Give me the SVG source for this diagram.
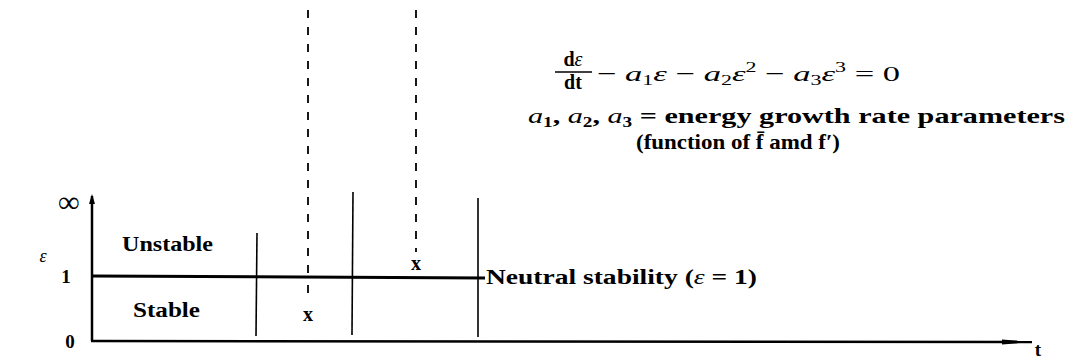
<svg xmlns="http://www.w3.org/2000/svg" width="1070" height="364" viewBox="0 0 1070 364">
<style>
.t{font-family:"Liberation Serif","DejaVu Serif",serif;fill:#000}
.b{font-weight:bold}
.i{font-style:italic}
.ax{stroke:#000;stroke-width:2.5;fill:none}
.sl{stroke:#000;stroke-width:1.6;fill:none}
.dl{stroke:#000;stroke-width:1.8;fill:none;stroke-dasharray:8 9}
.sub{font-size:14px}
</style>
<defs>
<marker id="ah" viewBox="0 0 30 8" refX="30" refY="4" markerWidth="30" markerHeight="8" markerUnits="userSpaceOnUse" orient="auto">
<path d="M0,1.5 L30,4 L0,6.5 Z" fill="#000"/>
</marker>
</defs>
<rect width="1070" height="364" fill="#fff"/>
<g id="connectors">
<line class="ax" x1="92" y1="341" x2="92" y2="196"/>
<path d="M89,204 L92,194 L95,204 Z" fill="#000"/>
<line class="ax" x1="91" y1="341" x2="1032" y2="342" marker-end="url(#ah)"/>
<line x1="92" y1="276" x2="485" y2="278" stroke="#000" stroke-width="3"/>
<line class="sl" x1="257" y1="233" x2="256" y2="336"/>
<line class="sl" x1="353" y1="192" x2="352" y2="335"/>
<line class="sl" x1="478" y1="198" x2="478" y2="337"/>
<line class="dl" x1="308" y1="10" x2="308" y2="276"/>
<line class="dl" x1="308" y1="285" x2="308" y2="300"/>
<line class="dl" x1="416" y1="10" x2="416" y2="252"/>
</g>
<g id="axis-labels">
<text class="t b" x="69" y="212" font-size="30" text-anchor="middle">∞</text>
<text class="t i" x="43" y="262" font-size="18" text-anchor="middle">ε</text>
<text class="t b" x="66" y="283" font-size="19" text-anchor="middle">1</text>
<text class="t b" x="70" y="348" font-size="19" text-anchor="middle">0</text>
<text class="t b" x="1038" y="356" font-size="19" text-anchor="middle">t</text>
</g>
<g id="unstable"><text class="t b" x="122" y="251" font-size="21" textLength="91" lengthAdjust="spacingAndGlyphs">Unstable</text></g>
<g id="stable"><text class="t b" x="133" y="317" font-size="21" textLength="67" lengthAdjust="spacingAndGlyphs">Stable</text></g>
<g id="mark-upper"><text class="t b" x="416" y="270" font-size="20" text-anchor="middle">x</text></g>
<g id="mark-lower"><text class="t b" x="308" y="321" font-size="20" text-anchor="middle">x</text></g>
<g id="neutral"><text class="t b" x="486" y="284" font-size="20" textLength="271" lengthAdjust="spacingAndGlyphs">Neutral stability (<tspan class="i" font-weight="normal">ε</tspan> = 1)</text></g>
<g id="equation">
<text class="t b" x="573" y="66" font-size="20" text-anchor="middle">d<tspan class="i" font-weight="normal">ε</tspan></text>
<line x1="555" y1="72" x2="592" y2="72" stroke="#000" stroke-width="1.5"/>
<text class="t b" x="573" y="89" font-size="20" text-anchor="middle">dt</text>
<text class="t" x="597" y="81" font-size="22" textLength="303" lengthAdjust="spacingAndGlyphs">− <tspan class="i">a</tspan><tspan class="sub" dy="4">1</tspan><tspan class="i" dy="-4">ε</tspan> − <tspan class="i">a</tspan><tspan class="sub" dy="4">2</tspan><tspan class="i" dy="-4">ε</tspan><tspan class="sub" dy="-9">2</tspan><tspan dy="9"> − </tspan><tspan class="i">a</tspan><tspan class="sub" dy="4">3</tspan><tspan class="i" dy="-4">ε</tspan><tspan class="sub" dy="-9">3</tspan><tspan dy="9"> = 0</tspan></text>
</g>
<g id="params">
<text class="t b" x="528" y="123" font-size="22" textLength="537" lengthAdjust="spacingAndGlyphs"><tspan class="i" font-weight="normal">a</tspan><tspan class="sub" dy="4">1</tspan><tspan dy="-4">, </tspan><tspan class="i" font-weight="normal">a</tspan><tspan class="sub" dy="4">2</tspan><tspan dy="-4">, </tspan><tspan class="i" font-weight="normal">a</tspan><tspan class="sub" dy="4">3</tspan><tspan dy="-4"> = energy growth rate parameters</tspan></text>
<text class="t b" x="636" y="149" font-size="21" textLength="204" lengthAdjust="spacingAndGlyphs">(function of f̄ amd f′)</text>
</g>
</svg>
